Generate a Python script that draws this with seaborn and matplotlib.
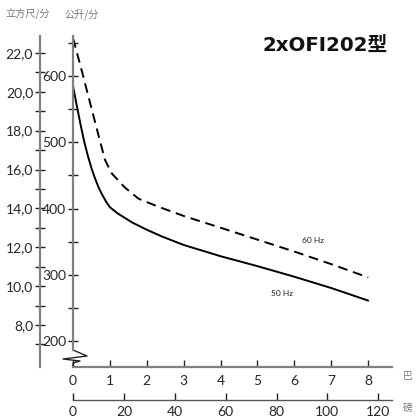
import numpy as np
import pandas as pd
import matplotlib
matplotlib.use("Agg")
import matplotlib.pyplot as plt
import seaborn as sns
from matplotlib.ticker import FixedLocator, FuncFormatter
from matplotlib.lines import Line2D

# ---- data ----
bar_50 = [0.0, 0.1, 0.2, 0.3, 0.4, 0.5, 0.6, 0.7, 0.8, 0.9, 1.0, 1.2, 1.4, 1.6,
          2.0, 2.4, 3.0, 4.0, 5.0, 6.0, 7.0, 8.0]
lpm_50 = [585, 556, 528, 502, 480, 461, 445, 431, 420, 410, 402, 393, 386, 379,
          368, 358, 345, 328, 313, 297, 280, 261]
bar_60 = [0.0, 0.2, 0.4, 0.6, 0.75, 0.87, 1.05, 1.4, 1.77, 2.3, 3.04, 4.0, 5.0,
          6.0, 7.0, 8.0]
lpm_60 = [657, 616, 573, 530, 498, 473, 453, 432, 415, 403, 388, 371, 353,
          335, 316, 296]

bar_ticks = [0, 1, 2, 3, 4, 5, 6, 7, 8]
psi_ticks = [0, 20, 40, 60, 80, 100, 120]
lpm_major = [200, 300, 400, 500, 600]
lpm_minor = [250, 350, 450, 550, 650]
cfm_major = [8, 10, 12, 14, 16, 18, 20, 22]
cfm_minor = [7, 9, 11, 13, 15, 17, 19, 21]

title = "2xOFI202型"
label_50 = "50 Hz"
label_60 = "60 Hz"

df = pd.DataFrame({
    "bar": bar_50 + bar_60,
    "lpm": lpm_50 + lpm_60,
    "freq": [label_50] * len(bar_50) + [label_60] * len(bar_60),
})

sns.set_theme(style="white")
plt.rcParams["font.family"] = ["Lato", "Noto Sans CJK SC", "DejaVu Sans"]

W, H = 416, 417
fig = plt.figure(figsize=(W / 100, H / 100), dpi=100)

# axes geometry in pixels
x0, x1 = 73, 392
y_top, y_bot = 36, 367
ax = fig.add_axes([x0 / W, 1 - y_bot / H, (x1 - x0) / W, (y_bot - y_top) / H])
ax.set_facecolor("none")

sns.lineplot(data=df, x="bar", y="lpm", style="freq", color="black",
             dashes={label_50: "", label_60: (5, 3)}, linewidth=1.4,
             legend=False, ax=ax, sort=False, estimator=None)

ax.set_xlim(0, 8.645)
ax.set_ylim(160.8, 660.4)
ax.set_xlabel("")
ax.set_ylabel("")

spine_col = "#808080"
for s in ["top", "right"]:
    ax.spines[s].set_visible(False)
ax.spines["left"].set_color(spine_col)
ax.spines["left"].set_linewidth(1.6)
ax.spines["left"].set_bounds(186.4, 660.4)
ax.spines["bottom"].set_color(spine_col)
ax.spines["bottom"].set_linewidth(1.6)

# left (L/min) axis ticks
ax.yaxis.set_major_locator(FixedLocator(lpm_major))
ax.yaxis.set_minor_locator(FixedLocator(lpm_minor))
ax.tick_params(axis="y", which="both", direction="inout", length=7, width=1,
               color="#222222", pad=1.5, labelsize=10, left=True)
ax.tick_params(axis="y", which="minor", labelleft=False)

# bottom (bar) axis
ax.xaxis.set_major_locator(FixedLocator(bar_ticks))
ax.tick_params(axis="x", which="major", direction="in", length=5, width=1,
               color="#222222", pad=6, labelsize=10, bottom=True)

# zigzag break on the left spine (axes fraction coords)
def fy(py):
    return (y_bot - py) / (y_bot - y_top)
def fx(px):
    return (px - x0) / (x1 - x0)
zz_x = [fx(73), fx(87), fx(63), fx(80), fx(73), fx(73)]
zz_y = [fy(350), fy(356), fy(359), fy(361), fy(363), fy(367)]
ax.add_line(Line2D(zz_x, zz_y, transform=ax.transAxes, color="#222222",
                   linewidth=1.0, clip_on=False))

# psi axis
psi_per_bar = 14.5038
sec = ax.secondary_xaxis(-(400 - y_bot) / (y_bot - y_top),
                         functions=(lambda b: b * psi_per_bar, lambda p: p / psi_per_bar))
sec.xaxis.set_major_locator(FixedLocator(psi_ticks))
sec.tick_params(axis="x", direction="in", length=5, width=1, color="#222222",
                pad=4.5, labelsize=10)
sec.spines["bottom"].set_color("#555555")
sec.spines["bottom"].set_linewidth(1.0)

# outer cfm axis
ax2 = ax.twinx()
ax2.set_ylim(5.84, 22.87)
ax2.yaxis.set_ticks_position("left")
ax2.yaxis.set_label_position("left")
ax2.spines["left"].set_position(("axes", -(x0 - 40) / (x1 - x0)))
for s in ["top", "right", "bottom"]:
    ax2.spines[s].set_visible(False)
ax2.spines["left"].set_color(spine_col)
ax2.spines["left"].set_linewidth(1.6)
ax2.yaxis.set_major_locator(FixedLocator(cfm_major))
ax2.yaxis.set_minor_locator(FixedLocator(cfm_minor))
ax2.yaxis.set_major_formatter(FuncFormatter(lambda v, p: f"{v:.1f}".replace(".", ",")))
ax2.tick_params(axis="y", which="both", direction="inout", length=7, width=1,
                color="#222222", pad=1.5, labelsize=10, left=True, right=False,
                labelleft=True, labelright=False)
ax2.tick_params(axis="y", which="minor", labelleft=False)
ax2.grid(False)
ax.grid(False)

# texts
gray = "#777777"
cjk = ["Noto Sans CJK SC", "DejaVu Sans"]
fig.text(5 / W, 1 - 14 / H, "立方尺/分", fontsize=7.3, color=gray, va="center", ha="left",
         family=cjk)
fig.text(64 / W, 1 - 14 / H, "公升/分", fontsize=7.3, color=gray, va="center", ha="left",
         family=cjk)
fig.text(388 / W, 1 - 45 / H, title, fontsize=14.2, fontweight="bold", color="#111111",
         ha="right", va="center", family=["DejaVu Sans", "Noto Sans CJK SC"])
fig.text(313 / W, 1 - 241 / H, label_60, fontsize=6, color="#222222", ha="center", va="center")
fig.text(282 / W, 1 - 293 / H, label_50, fontsize=6, color="#222222", ha="center", va="center")
fig.text(408 / W, 1 - 376 / H, "巴", fontsize=7, color=gray, ha="center", va="center",
         family=cjk)
fig.text(408 / W, 1 - 408 / H, "磅", fontsize=7, color=gray, ha="center", va="center",
         family=cjk)

fig.savefig("out.png", dpi=100)
